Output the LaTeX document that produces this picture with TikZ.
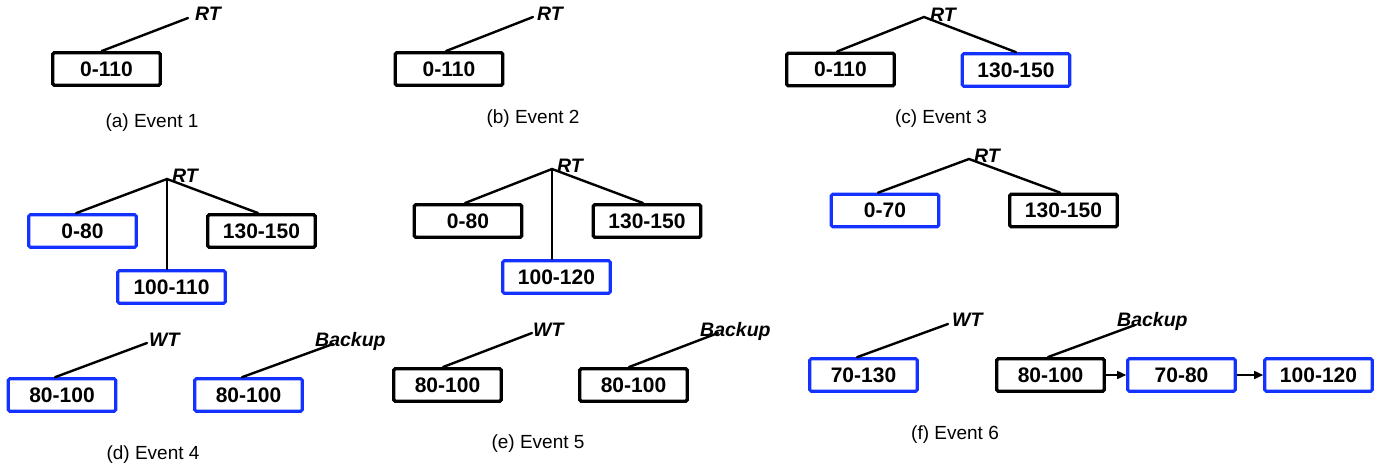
\documentclass[tikz,border=0pt]{standalone}
\usepackage{fontspec}
\setmainfont{Liberation Sans}
\usetikzlibrary{arrows.meta}
\definecolor{nodeblue}{RGB}{20,50,255}
\begin{document}
\begin{tikzpicture}[x=1pt,y=-1pt,
  box/.style={draw=black, line width=3.4pt, rounded corners=1.5pt, minimum width=107.5pt, minimum height=32.5pt, inner sep=0pt, font=\fontsize{21}{25}\selectfont\bfseries},
  bluebox/.style={box, draw=nodeblue, line width=3.1pt},
  conn/.style={line width=2.4pt, line cap=round},
  tag/.style={anchor=base west, inner sep=0pt, font=\fontsize{19.5}{23}\selectfont\bfseries\itshape},
  caption/.style={inner sep=0pt, font=\fontsize{19}{23}\selectfont},
  link/.style={line width=1.6pt, -{Triangle[length=9pt,width=8pt]}}
]
\useasboundingbox (0,0) rectangle (1390,472);

% ---------- (a) Event 1
\node[box] (a1) at (106.5,69) {0-110};
\coordinate (ar) at (188,18);
\node[tag] (art) at (195,20) {RT};
\draw[conn] ([xshift=-4.8pt]a1.north) -- (ar);
\node[caption] (capa) at (152,123) {(a) Event 1};

% ---------- (b) Event 2
\node[box] (b1) at (449,69) {0-110};
\coordinate (br) at (533,17);
\node[tag] (brt) at (537,20) {RT};
\draw[conn] ([xshift=-3pt]b1.north) -- (br);
\node[caption] (capb) at (533,119) {(b) Event 2};

% ---------- (c) Event 3
\node[box] (c1) at (840.5,69.5) {0-110};
\node[bluebox] (c2) at (1016,70) {130-150};
\coordinate (cr) at (924,17);
\node[tag] (crt) at (930,21) {RT};
\draw[conn] ([xshift=-3.5pt]c1.north) -- (cr) -- (c2.north);
\node[caption] (capc) at (941,119) {(c) Event 3};

% ---------- (d) Event 4
\node[bluebox] (d1) at (82.5,231) {0-80};
\node[box] (d2) at (261.5,231) {130-150};
\node[bluebox] (d3) at (171.5,287) {100-110};
\coordinate (dr) at (167,179);
\node[tag] (drt) at (172,182) {RT};
\draw[conn] ([xshift=-6.5pt]d1.north) -- (dr) -- ([xshift=-3.5pt]d2.north);
\draw[conn] (dr) -- ([xshift=-4.5pt]d3.north);

\node[bluebox] (d4) at (62,395) {80-100};
\coordinate (dw) at (147,343);
\node[tag] (dwt) at (149,346) {WT};
\draw[conn] ([xshift=-7pt]d4.north) -- (dw);
\node[bluebox] (d5) at (248.5,395) {80-100};
\coordinate (db) at (333,344);
\node[tag] (dbt) at (315,346) {Backup};
\draw[conn] ([xshift=-6.5pt]d5.north) -- (db);
\node[caption] (capd) at (153,455) {(d) Event 4};

% ---------- (e) Event 5
\node[box] (e1) at (468,221) {0-80};
\node[box] (e2) at (647,221) {130-150};
\node[bluebox] (e3) at (556.5,277) {100-120};
\coordinate (er) at (552,169);
\node[tag] (ert) at (557,172) {RT};
\draw[conn] ([xshift=-3pt]e1.north) -- (er) -- ([xshift=-4pt]e2.north);
\draw[conn] (er) -- ([xshift=-4.5pt]e3.north);

\node[box] (e4) at (447.5,385) {80-100};
\coordinate (ew) at (532,333);
\node[tag] (ewt) at (533,336) {WT};
\draw[conn] ([xshift=-4.5pt]e4.north) -- (ew);
\node[box] (e5) at (633.5,385) {80-100};
\coordinate (eb) at (718,333);
\node[tag] (ebt) at (700,336) {Backup};
\draw[conn] ([xshift=-4.5pt]e5.north) -- (eb);
\node[caption] (cape) at (538,444) {(e) Event 5};

% ---------- (f) Event 6
\node[bluebox] (f1) at (885,210.5) {0-70};
\node[box] (f2) at (1063.5,210.5) {130-150};
\coordinate (fr) at (969,159);
\node[tag] (frt) at (974,162) {RT};
\draw[conn] ([xshift=-7pt]f1.north) -- (fr) -- ([xshift=-3.5pt]f2.north);

\node[bluebox] (f3) at (863.5,375) {70-130};
\coordinate (fw) at (948,324);
\node[tag] (fwt) at (952,326) {WT};
\draw[conn] ([xshift=-6.5pt]f3.north) -- (fw);
\node[box] (f4) at (1050.5,375) {80-100};
\coordinate (fb) at (1135,325);
\node[tag] (fbt) at (1117,326) {Backup};
\draw[conn] ([xshift=-2.5pt]f4.north) -- (fb);
\node[bluebox] (f5) at (1181.5,375) {70-80};
\node[bluebox] (f6) at (1318.5,375) {100-120};
\draw[link] (f4.east) -- (f5.west);
\draw[link] (f5.east) -- (f6.west);
\node[caption] (capf) at (955,435) {(f) Event 6};
\end{tikzpicture}
\end{document}
